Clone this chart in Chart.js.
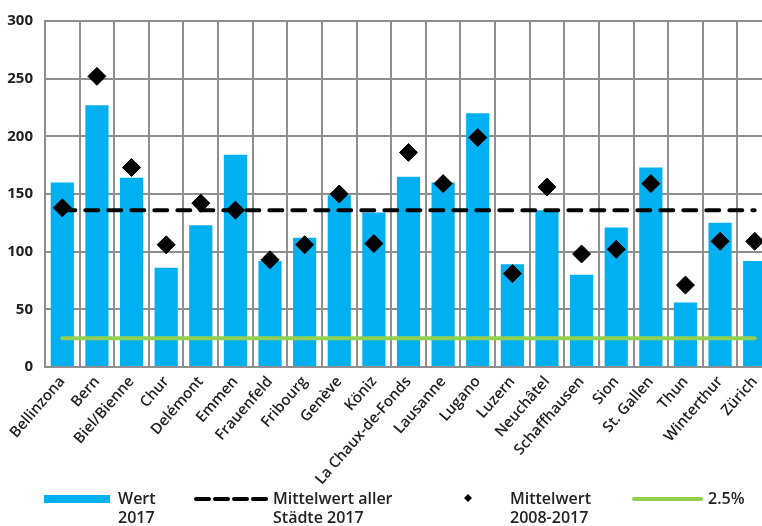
<!DOCTYPE html>
<html>
<head>
<meta charset="utf-8">
<script src="https://cdn.jsdelivr.net/npm/chart.js@4"></script>
<style>
    html, body { margin: 0; padding: 0; background: #fff; overflow: hidden; width: 762px; height: 526px; }
    #wrap { position: absolute; left: 0; top: 0; width: 772px; height: 490px; }
    .legend { position: absolute; top: 489px; font-family: "Open Sans", sans-serif; font-weight: 600; font-size: 16px; line-height: 19px; color: #222; }
    .swatch { position: absolute; }
</style>
</head>
<body>
<div id="wrap"><canvas id="myChart"></canvas></div>

<div class="swatch" style="left:44px; top:495px; width:66px; height:8px; background:#00b0f0"></div>
<div class="legend" style="left:118px">Wert<br>2017</div>

<svg class="swatch" style="left:193px; top:494px" width="76" height="10">
    <line x1="3" y1="5" x2="73" y2="5" stroke="#000" stroke-width="4" stroke-dasharray="13 6" stroke-linecap="round"/>
</svg>
<div class="legend" style="left:273px">Mittelwert aller<br>Städte 2017</div>

<svg class="swatch" style="left:463px; top:493px" width="10" height="10">
    <polygon points="5,1 9,5 5,9 1,5" fill="#000"/>
</svg>
<div class="legend" style="left:510px">Mittelwert<br>2008-2017</div>

<div class="swatch" style="left:632px; top:497px; width:71px; height:4px; background:#92d050; border-radius:2px"></div>
<div class="legend" style="left:708px">2.5%</div>

<script>
    const cities = ['Bellinzona', 'Bern', 'Biel/Bienne', 'Chur', 'Delémont', 'Emmen', 'Frauenfeld', 'Fribourg',
        'Genève', 'Köniz', 'La Chaux-de-Fonds', 'Lausanne', 'Lugano', 'Luzern', 'Neuchâtel', 'Schaffhausen',
        'Sion', 'St. Gallen', 'Thun', 'Winterthur', 'Zürich']
    // value 2017 per city
    const wert2017 = [160, 227, 164, 86, 123, 184, 92, 112, 149, 134, 165, 160, 220, 89, 136, 80, 121, 173, 56, 125, 92]
    // average 2008-2017 per city
    const mittel0817 = [138, 252, 173, 106, 142, 136, 93, 106, 150, 107, 186, 159, 199, 81, 156, 98, 102, 159, 71, 109, 109]
    const mittelAlle = 136
    const grenze = 25
    const yTicks = [0, 50, 100, 150, 200, 250, 300]

    const first = cities[0]
    const last = cities[cities.length - 1]
    const gridColor = '#8f8f8f'

    const ctx = document.getElementById('myChart').getContext('2d')
    const chart = new Chart(ctx, {
        type: 'bar',
        data: {
            labels: cities,
            datasets: [{
                type: 'line',
                label: 'Mittelwert 2008-2017',
                data: mittel0817,
                showLine: false,
                pointStyle: 'rectRot',
                pointRadius: 9,
                pointBackgroundColor: '#000',
                pointBorderColor: '#000',
                pointBorderWidth: 1,
                order: 0
            }, {
                type: 'line',
                label: 'Mittelwert aller Städte 2017',
                data: [{ x: first, y: mittelAlle }, { x: last, y: mittelAlle }],
                borderColor: '#000',
                borderWidth: 4,
                borderDash: [13, 10],
                borderCapStyle: 'round',
                pointRadius: 0,
                order: 1
            }, {
                type: 'line',
                label: '2.5%',
                data: [{ x: first, y: grenze }, { x: last, y: grenze }],
                borderColor: '#92d050',
                borderWidth: 4,
                borderCapStyle: 'round',
                pointRadius: 0,
                order: 2
            }, {
                label: 'Wert 2017',
                data: wert2017,
                backgroundColor: '#00b0f0',
                barPercentage: 0.67,
                categoryPercentage: 1,
                order: 3
            }]
        },
        options: {
            responsive: true,
            maintainAspectRatio: false,
            animation: false,
            layout: {
                autoPadding: false,
                padding: { top: 14, left: 0, right: 0, bottom: 0 }
            },
            plugins: {
                legend: { display: false },
                tooltip: { enabled: false }
            },
            scales: {
                x: {
                    afterFit: function (scale) {
                        scale.height = 123
                        scale.paddingLeft = 0
                        scale.paddingRight = 0
                    },
                    ticks: {
                        color: '#222',
                        minRotation: 49,
                        maxRotation: 49,
                        autoSkip: false,
                        padding: 6,
                        font: { family: 'Open Sans', size: 15, weight: '600' }
                    },
                    grid: {
                        color: gridColor,
                        lineWidth: 2,
                        drawTicks: false
                    },
                    border: { color: gridColor, width: 2 }
                },
                y: {
                    min: 0,
                    max: 300,
                    afterFit: function (scale) { scale.width = 45 },
                    afterBuildTicks: function (scale) { scale.ticks = yTicks.map(v => ({ value: v })) },
                    ticks: {
                        color: '#222',
                        padding: 12,
                        font: { family: 'Open Sans', size: 15, weight: 'bold' }
                    },
                    grid: {
                        color: gridColor,
                        lineWidth: 2,
                        drawTicks: false
                    },
                    border: { color: gridColor, width: 2 }
                }
            }
        }
    })
</script>
</body>
</html>
